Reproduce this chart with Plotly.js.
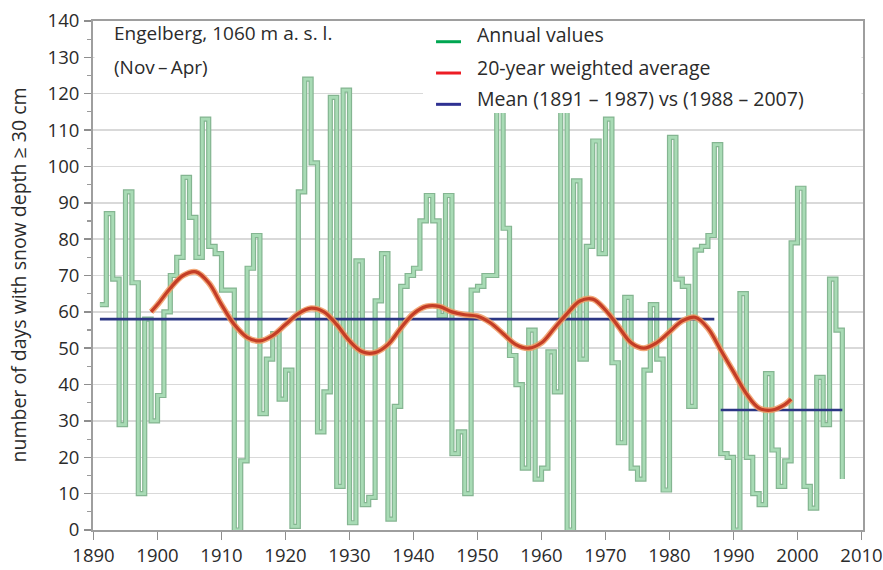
<!DOCTYPE html>
<html>
<head>
<meta charset="utf-8">
<script src="https://cdn.plot.ly/plotly-3.0.1.min.js"></script>
<style>
  html, body { margin: 0; padding: 0; background: #ffffff; }
  #chart { width: 883px; height: 570px; }
</style>
</head>
<body>
<div id="chart"></div>
<script>
// Engelberg (1060 m a.s.l.), winter half-year Nov–Apr:
// number of days per season with a snow depth of at least 30 cm.
const years = [
  1891, 1892, 1893, 1894, 1895, 1896, 1897, 1898, 1899, 1900,
  1901, 1902, 1903, 1904, 1905, 1906, 1907, 1908, 1909, 1910,
  1911, 1912, 1913, 1914, 1915, 1916, 1917, 1918, 1919, 1920,
  1921, 1922, 1923, 1924, 1925, 1926, 1927, 1928, 1929, 1930,
  1931, 1932, 1933, 1934, 1935, 1936, 1937, 1938, 1939, 1940,
  1941, 1942, 1943, 1944, 1945, 1946, 1947, 1948, 1949, 1950,
  1951, 1952, 1953, 1954, 1955, 1956, 1957, 1958, 1959, 1960,
  1961, 1962, 1963, 1964, 1965, 1966, 1967, 1968, 1969, 1970,
  1971, 1972, 1973, 1974, 1975, 1976, 1977, 1978, 1979, 1980,
  1981, 1982, 1983, 1984, 1985, 1986, 1987, 1988, 1989, 1990,
  1991, 1992, 1993, 1994, 1995, 1996, 1997, 1998, 1999, 2000,
  2001, 2002, 2003, 2004, 2005, 2006, 2007
];

const annualDays = [
   62,  87,  69,  29,  93,  68,  10,  58,  30,  37,
   60,  70,  75,  97,  86,  75, 113,  78,  76,  66,
   66,   0,  19,  72,  81,  32,  47,  54,  36,  44,
    1,  93, 124, 101,  27,  38, 119,  12, 121,   2,
   74,   7,   9,  63,  76,   3,  34,  67,  70,  72,
   85,  92,  85,  59,  92,  21,  27,  10,  66,  67,
   70,  70, 125,  83,  48,  40,  17,  55,  14,  17,
   49,  38, 126,   0,  96,  47,  78, 107,  76, 113,
   46,  24,  64,  17,  14,  44,  62,  47,  11, 108,
   69,  67,  34,  77,  78,  81, 106,  21,  20,   0,
   65,  20,  10,   7,  43,  22,  12,  19,  79,  94,
   12,   6,  42,  29,  69,  55,  14
];

// 20-year weighted (low-pass) average
const smoothYears = [
  1899, 1900, 1902, 1904, 1906, 1908, 1910, 1912, 1914, 1916,
  1918, 1920, 1922, 1924, 1926, 1928, 1930, 1932, 1934, 1936,
  1938, 1940, 1942, 1944, 1946, 1948, 1950, 1952, 1954, 1956,
  1958, 1960, 1962, 1964, 1966, 1968, 1970, 1972, 1974, 1976,
  1978, 1980, 1982, 1984, 1986, 1988, 1990, 1992, 1994, 1996,
  1998, 1999
];
const smoothDays = [
  60.0, 62.0, 66.5, 70.0, 71.0, 68.0, 62.0, 56.5, 53.0, 52.0,
  53.5, 56.5, 59.5, 61.0, 60.0, 56.5, 52.0, 49.0, 48.8, 51.0,
  55.5, 59.5, 61.5, 61.5, 60.0, 59.2, 58.8, 57.0, 54.0, 51.0,
  50.0, 51.5, 55.5, 59.5, 63.0, 63.5, 60.5, 56.0, 51.5, 50.0,
  51.5, 54.5, 57.5, 58.5, 55.5, 49.5, 43.5, 37.5, 33.5, 33.0,
  34.5, 36.0
];

// Period means: 1891–1987 and 1988–2007
const meanStart = [1891, 1988];
const meanEnd   = [1987, 2007];
const meanValue = [58, 33];

const legendLabels = [
  'Annual values',
  '20-year weighted average',
  'Mean (1891 – 1987) vs (1988 – 2007)'
];
const legendColors = ['#00a651', '#ed1c24', '#2e3192'];

const xTicks = [1890, 1900, 1910, 1920, 1930, 1940, 1950, 1960, 1970, 1980, 1990, 2000, 2010];
const yTicks = [0, 10, 20, 30, 40, 50, 60, 70, 80, 90, 100, 110, 120, 130, 140];

const FONT = 'Open Sans, Noto Sans, sans-serif';
const TEXT = '#2b2b2b';

const traces = [
  // annual values as a stepped band: soft rim, light core
  { x: years, y: annualDays, type: 'scatter', mode: 'lines',
    line: { shape: 'hv', color: '#84b591', width: 5.2 }, hoverinfo: 'skip' },
  { x: years, y: annualDays, type: 'scatter', mode: 'lines',
    line: { shape: 'hv', color: '#a8dbb5', width: 2.8 }, hoverinfo: 'skip' }
];

meanStart.forEach((s, i) => {
  traces.push({ x: [s, meanEnd[i]], y: [meanValue[i], meanValue[i]],
    type: 'scatter', mode: 'lines',
    line: { color: '#2c3784', width: 2.6 }, hoverinfo: 'skip' });
});

traces.push(
  { x: smoothYears, y: smoothDays, type: 'scatter', mode: 'lines',
    line: { shape: 'spline', smoothing: 1, color: '#f09a63', width: 6 },
    opacity: 0.85, hoverinfo: 'skip' },
  { x: smoothYears, y: smoothDays, type: 'scatter', mode: 'lines',
    line: { shape: 'spline', smoothing: 1, color: '#c43d26', width: 3.2 },
    hoverinfo: 'skip' }
);

// paper-space geometry of the inset boxes and key
const pad = 0.002;
const shapes = [
  { type: 'rect', xref: 'paper', yref: 'paper', layer: 'above',
    x0: pad, x1: 0.4286, y0: 0.894, y1: 1 - 0.003,
    fillcolor: '#ffffff', line: { width: 0 } },
  { type: 'rect', xref: 'paper', yref: 'paper', layer: 'above',
    x0: 0.4286, x1: 1 - pad, y0: 0.8193, y1: 1 - 0.003,
    fillcolor: '#ffffff', line: { width: 0 } }
];
const keyLineY = [0.9593, 0.8978, 0.8363];
const keyTextY = [0.9725, 0.9096, 0.8477];
legendLabels.forEach((lab, i) => {
  shapes.push({ type: 'line', xref: 'paper', yref: 'paper', layer: 'above',
    x0: 0.4455, x1: 0.4779, y0: keyLineY[i], y1: keyLineY[i],
    line: { color: legendColors[i], width: 3 } });
});

const annotations = [
  { text: 'Engelberg, 1060 m a. s. l.', xref: 'paper', yref: 'paper',
    x: 0.0247, y: 0.9764, xanchor: 'left', yanchor: 'middle', showarrow: false,
    font: { family: FONT, size: 19, color: TEXT } },
  { text: '(Nov\u2009–\u2009Apr)', xref: 'paper', yref: 'paper',
    x: 0.0247, y: 0.9096, xanchor: 'left', yanchor: 'middle', showarrow: false,
    font: { family: FONT, size: 19, color: TEXT } },
  { text: 'number of days with snow depth ≥ 30 cm', xref: 'paper', yref: 'paper',
    x: -0.0974, y: 0.5, xanchor: 'center', yanchor: 'middle', textangle: -90,
    showarrow: false, font: { family: FONT, size: 19.5, color: TEXT } }
];
legendLabels.forEach((lab, i) => {
  annotations.push({ text: lab, xref: 'paper', yref: 'paper',
    x: 0.4961, y: keyTextY[i], xanchor: 'left', yanchor: 'middle', showarrow: false,
    font: { family: FONT, size: 19.5, color: TEXT } });
});

const layout = {
  width: 883, height: 570,
  margin: { l: 93, r: 20, t: 21, b: 40 },
  paper_bgcolor: '#ffffff', plot_bgcolor: '#ffffff',
  showlegend: false,
  xaxis: {
    range: [1889.92, 2010.23],
    tickvals: xTicks, ticktext: xTicks.map(String),
    ticks: 'outside', ticklen: 8, tickwidth: 1.5, tickcolor: '#8e8e8e',
    showgrid: false, zeroline: false,
    showline: true, linecolor: '#9e9e9e', linewidth: 2, mirror: true,
    tickfont: { family: FONT, size: 18.5, color: TEXT }
  },
  yaxis: {
    range: [0, 140],
    tickvals: yTicks, ticktext: yTicks.map(String),
    ticks: 'outside', ticklen: 7, tickwidth: 1.5, tickcolor: '#8e8e8e',
    minor: { dtick: 5, tick0: 0, ticks: 'outside', ticklen: 4, tickwidth: 1.2,
             tickcolor: '#9a9a9a', showgrid: false },
    showgrid: true, gridcolor: '#d9d9d9', gridwidth: 1.5,
    zeroline: false,
    showline: true, linecolor: '#9e9e9e', linewidth: 2, mirror: true,
    ticklabelstandoff: 1,
    tickfont: { family: FONT, size: 18.5, color: TEXT }
  },
  shapes: shapes,
  annotations: annotations
};

Plotly.newPlot('chart', traces, layout, { displayModeBar: false, staticPlot: true });
</script>
</body>
</html>
